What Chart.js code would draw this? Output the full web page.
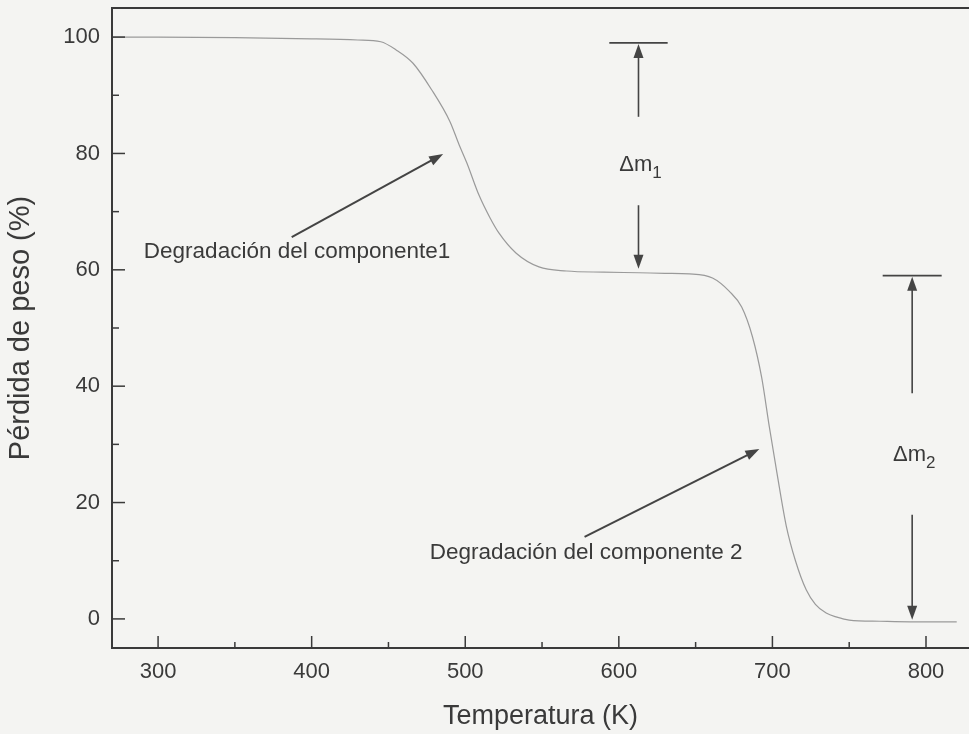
<!DOCTYPE html>
<html>
<head>
<meta charset="utf-8">
<script src="https://cdn.jsdelivr.net/npm/chart.js@4.4.1/dist/chart.umd.min.js"></script>
<style>
  html, body { margin: 0; padding: 0; background: #f4f4f2; }
  #wrap { width: 969px; height: 734px; position: relative; }
</style>
</head>
<body>
<div id="wrap"><canvas id="c" width="969" height="734"></canvas></div>
<script>
// ---- data ----
const temperatureK = [270, 300, 350, 400, 430, 445, 455, 466, 478, 490, 496, 501, 509, 516, 522, 533, 548, 566, 590, 613, 630, 646, 661, 672, 680, 687, 693, 698, 703, 709, 715, 722, 728, 735, 742, 750, 770, 790, 820];
const weightLoss   = [100, 100, 99.9, 99.7, 99.5, 99.2, 97.8, 95.5, 91, 85.5, 81.5, 78.4, 72.8, 69, 66.3, 62.9, 60.5, 59.8, 59.6, 59.5, 59.4, 59.3, 58.6, 56.3, 53.6, 48.5, 41.5, 33, 25, 16, 10, 5, 2.5, 1, 0.3, -0.2, -0.4, -0.5, -0.5];
const xTickValues = [300, 400, 500, 600, 700, 800];
const yTickValues = [0, 20, 40, 60, 80, 100];

// annotations in data coordinates
const labelTexts = ["Degradación del componente1", "Degradación del componente 2"];
const labelAnchors = [[390.5, 63.1], [578.7, 11.3]];
const pointerArrows = [[[387, 65.6], [485.6, 79.9]], [[577.7, 14.1], [691.5, 29.2]]];
const deltaNames = ["1", "2"];
const deltaX = [612.8, 791];
const deltaTop = [99.0, 59.0];
const deltaBottom = [60.0, -0.3];
const deltaText = [78, 28.2];
const deltaGapTop = [86.3, 38.8];
const deltaGapBottom = [71.1, 17.9];
const deltaBarHalf = [19, 19.2];

const FONT = '"Liberation Sans", Arial, Helvetica, sans-serif';
const INK = '#3a3a3a';

const points = temperatureK.map((t, i) => ({ x: t, y: weightLoss[i] }));

function arrow(ctx, x1, y1, x2, y2) {
  const ang = Math.atan2(y2 - y1, x2 - x1);
  const hl = 14, hw = 5;
  ctx.beginPath();
  ctx.moveTo(x1, y1);
  ctx.lineTo(x2 - Math.cos(ang) * hl * 0.8, y2 - Math.sin(ang) * hl * 0.8);
  ctx.stroke();
  ctx.beginPath();
  ctx.moveTo(x2, y2);
  ctx.lineTo(x2 - Math.cos(ang) * hl - Math.sin(ang) * hw, y2 - Math.sin(ang) * hl + Math.cos(ang) * hw);
  ctx.lineTo(x2 - Math.cos(ang) * hl + Math.sin(ang) * hw, y2 - Math.sin(ang) * hl - Math.cos(ang) * hw);
  ctx.closePath();
  ctx.fill();
}

const decor = {
  id: 'decor',
  beforeDraw(chart) {
    const ctx = chart.ctx;
    ctx.save();
    ctx.fillStyle = '#f4f4f2';
    ctx.fillRect(0, 0, chart.width, chart.height);
    ctx.restore();
  },
  afterDatasetsDraw(chart) {
    const ctx = chart.ctx;
    const a = chart.chartArea;
    const xs = chart.scales.x, ys = chart.scales.y;
    ctx.save();
    // frame
    ctx.strokeStyle = INK;
    ctx.lineWidth = 2;
    ctx.beginPath();
    ctx.moveTo(chart.width + 5, a.top);
    ctx.lineTo(a.left, a.top);
    ctx.lineTo(a.left, a.bottom);
    ctx.lineTo(chart.width + 5, a.bottom);
    ctx.stroke();
    // ticks (inward)
    ctx.lineWidth = 1.5;
    const xt = xs.ticks.map(t => t.value);
    xt.forEach((v, i) => {
      const px = xs.getPixelForValue(v);
      ctx.beginPath(); ctx.moveTo(px, a.bottom); ctx.lineTo(px, a.bottom - 12); ctx.stroke();
      if (i < xt.length - 1) {
        const pm = xs.getPixelForValue((v + xt[i + 1]) / 2);
        ctx.beginPath(); ctx.moveTo(pm, a.bottom); ctx.lineTo(pm, a.bottom - 6); ctx.stroke();
      }
    });
    const yt = ys.ticks.map(t => t.value);
    yt.forEach((v, i) => {
      const py = ys.getPixelForValue(v);
      ctx.beginPath(); ctx.moveTo(a.left, py); ctx.lineTo(a.left + 13, py); ctx.stroke();
      if (i < yt.length - 1) {
        const pm = ys.getPixelForValue((v + yt[i + 1]) / 2);
        ctx.beginPath(); ctx.moveTo(a.left, pm); ctx.lineTo(a.left + 7, pm); ctx.stroke();
      }
    });
    // pointer arrows and labels
    ctx.strokeStyle = '#444';
    ctx.fillStyle = '#444';
    ctx.lineWidth = 2;
    pointerArrows.forEach(([s, e]) => {
      arrow(ctx, xs.getPixelForValue(s[0]), ys.getPixelForValue(s[1]), xs.getPixelForValue(e[0]), ys.getPixelForValue(e[1]));
    });
    ctx.fillStyle = INK;
    ctx.font = '22.5px ' + FONT;
    ctx.textAlign = 'center';
    ctx.textBaseline = 'middle';
    labelTexts.forEach((t, i) => {
      ctx.fillText(t, xs.getPixelForValue(labelAnchors[i][0]), ys.getPixelForValue(labelAnchors[i][1]));
    });
    // delta m markers
    deltaX.forEach((dx, i) => {
      const px = xs.getPixelForValue(dx);
      ctx.strokeStyle = '#444';
      ctx.fillStyle = '#444';
      ctx.lineWidth = 1.6;
      const by = ys.getPixelForValue(deltaTop[i]);
      ctx.beginPath();
      ctx.moveTo(xs.getPixelForValue(dx - deltaBarHalf[i]), by);
      ctx.lineTo(xs.getPixelForValue(dx + deltaBarHalf[i]), by);
      ctx.stroke();
      arrow(ctx, px, ys.getPixelForValue(deltaGapTop[i]), px, by + 1);
      arrow(ctx, px, ys.getPixelForValue(deltaGapBottom[i]), px, ys.getPixelForValue(deltaBottom[i]) - 1);
      // text Δm with subscript
      ctx.fillStyle = INK;
      const ty = ys.getPixelForValue(deltaText[i]);
      ctx.font = '22px ' + FONT;
      const w1 = ctx.measureText('\u0394m').width;
      ctx.font = '17px ' + FONT;
      const w2 = ctx.measureText(deltaNames[i]).width;
      const x0 = px - (w1 + w2) / 2 + 2;
      ctx.textAlign = 'left';
      ctx.font = '22px ' + FONT;
      ctx.fillText('\u0394m', x0, ty);
      ctx.font = '17px ' + FONT;
      ctx.fillText(deltaNames[i], x0 + w1, ty + 8);
    });
    ctx.restore();
  }
};

new Chart(document.getElementById('c'), {
  type: 'line',
  data: {
    datasets: [{
      data: points,
      borderColor: '#9a9a9a',
      borderWidth: 1.2,
      pointRadius: 0,
      cubicInterpolationMode: 'monotone',
      fill: false
    }]
  },
  options: {
    responsive: false,
    animation: false,
    layout: { padding: { top: 8, right: 0, left: 0, bottom: 0 } },
    plugins: { legend: { display: false }, tooltip: { enabled: false } },
    scales: {
      x: {
        type: 'linear',
        min: 270, max: 828,
        afterBuildTicks: s => { s.ticks = xTickValues.map(v => ({ value: v })); },
        afterFit: s => { s.height = 86; s.paddingLeft = 0; s.paddingRight = 0; },
        grid: { display: false, drawTicks: false },
        border: { display: false },
        ticks: { padding: 11, color: INK, font: { family: FONT, size: 22 } },
        title: { display: true, text: 'Temperatura (K)', color: INK, font: { family: FONT, size: 27 }, padding: { top: 0, bottom: 1 } }
      },
      y: {
        type: 'linear',
        min: -5, max: 105,
        afterBuildTicks: s => { s.ticks = yTickValues.map(v => ({ value: v })); },
        afterFit: s => { s.width = 112; s.paddingTop = 0; s.paddingBottom = 0; },
        grid: { display: false, drawTicks: false },
        border: { display: false },
        ticks: { padding: 12, color: INK, font: { family: FONT, size: 22 } },
        title: { display: true, text: 'Pérdida de peso (%)', color: INK, font: { family: FONT, size: 29 }, padding: { top: 4, bottom: 0 } }
      }
    }
  },
  plugins: [decor]
});
</script>
</body>
</html>
